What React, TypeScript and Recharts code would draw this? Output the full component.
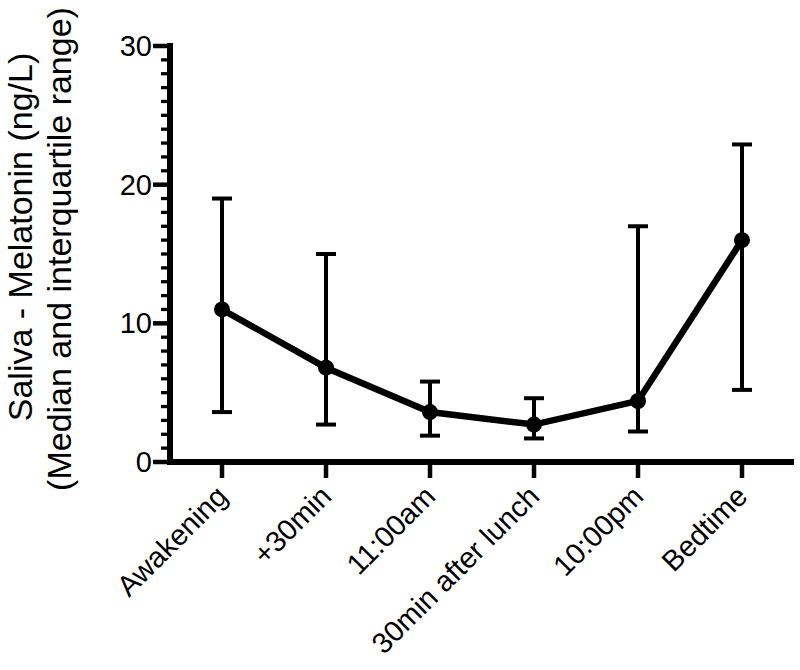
import React from 'react';
import { LineChart, Line, XAxis, YAxis, ErrorBar } from 'recharts';

const categories = ['Awakening', '+30min', '11:00am', '30min after lunch', '10:00pm', 'Bedtime'];
const medians = [11.0, 6.8, 3.6, 2.7, 4.4, 16.0];
const q1Values = [3.6, 2.7, 1.9, 1.7, 2.2, 5.2];
const q3Values = [19.0, 15.0, 5.8, 4.6, 17.0, 22.9];

const yMajorTicks = [0, 10, 20, 30];
const yAllTicks = [0, 1, 2, 3, 4, 5, 6, 7, 8, 9, 10, 11, 12, 13, 14, 15, 16, 17, 18, 19, 20, 21, 22, 23, 24, 25, 26, 27, 28, 29, 30];

const titleLine1 = 'Saliva - Melatonin (ng/L)';
const titleLine2 = '(Median and interquartile range)';

const data = categories.map((c, i) => ({
  name: c,
  median: medians[i],
  iqr: [medians[i] - q1Values[i], q3Values[i] - medians[i]],
}));

const FONT = '"Liberation Sans", Arial, Helvetica, sans-serif';

const YTick = (props: any) => {
  const { x, y, payload } = props;
  const v = payload.value;
  const major = yMajorTicks.includes(v);
  return (
    <g>
      <line
        x1={x - (major ? 17 : 9)}
        y1={y}
        x2={x}
        y2={y}
        stroke="#000"
        strokeWidth={major ? 4.5 : 3.3}
      />
      {major && (
        <text
          x={x - 18}
          y={y}
          textAnchor="end"
          dominantBaseline="central"
          fontSize={29}
          fontFamily={FONT}
          fill="#000"
        >
          {v}
        </text>
      )}
    </g>
  );
};

const XTick = (props: any) => {
  const { x, y, payload } = props;
  const ty = y + 29;
  return (
    <g>
      <line x1={x} y1={y} x2={x} y2={y + 16} stroke="#000" strokeWidth={4.5} />
      <text
        x={x}
        y={ty}
        transform={`rotate(-45 ${x} ${ty})`}
        textAnchor="end"
        dominantBaseline="central"
        fontSize={29}
        fontFamily={FONT}
        fill="#000"
      >
        {payload.value}
      </text>
    </g>
  );
};

const YTitle = () => (
  <g>
    <text
      x={32}
      y={237}
      transform="rotate(-90 32 237)"
      textAnchor="middle"
      fontSize={34}
      fontFamily={FONT}
      fill="#000"
    >
      {titleLine1}
    </text>
    <text
      x={71}
      y={249}
      transform="rotate(-90 71 249)"
      textAnchor="middle"
      fontSize={34}
      fontFamily={FONT}
      fill="#000"
    >
      {titleLine2}
    </text>
  </g>
);

export default function App() {
  return (
    <div style={{ position: 'absolute', left: 0, top: 0, width: 800, height: 670, background: '#fff' }}>
      <LineChart
        width={800}
        height={670}
        data={data}
        margin={{ top: 46, right: 9, bottom: 148, left: 110 }}
      >
        <XAxis
          dataKey="name"
          type="category"
          height={60}
          padding={{ left: 52, right: 49 }}
          axisLine={{ stroke: '#000', strokeWidth: 6, strokeLinecap: 'square' }}
          tickLine={false}
          tickSize={0}
          tickMargin={0}
          interval={0}
          tick={<XTick />}
        />
        <YAxis
          width={60}
          domain={[0, 30]}
          ticks={yAllTicks}
          interval={0}
          allowDataOverflow
          axisLine={{ stroke: '#000', strokeWidth: 6, strokeLinecap: 'square' }}
          tickLine={false}
          tickSize={0}
          tickMargin={0}
          tick={<YTick />}
          label={<YTitle />}
        />
        <Line
          type="linear"
          dataKey="median"
          stroke="#000"
          strokeWidth={6.5}
          dot={{ r: 8, fill: '#000', stroke: '#000', strokeWidth: 0 }}
          activeDot={false}
          isAnimationActive={false}
        >
          <ErrorBar
            dataKey="iqr"
            direction="y"
            width={10}
            stroke="#000"
            strokeWidth={4}
            isAnimationActive={false}
          />
        </Line>
      </LineChart>
    </div>
  );
}
